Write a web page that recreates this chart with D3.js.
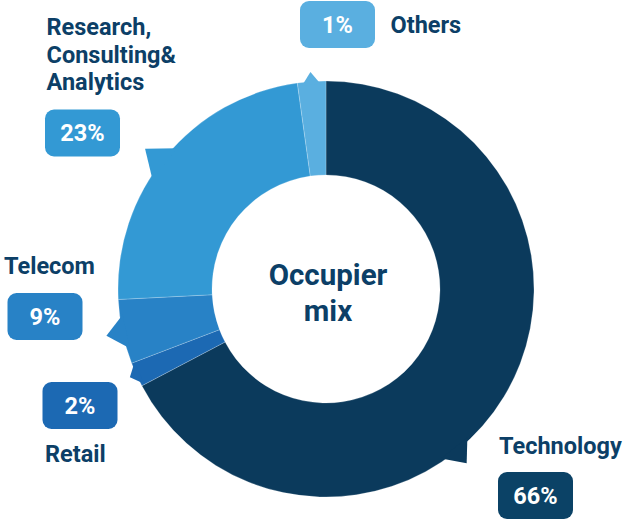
<!DOCTYPE html>
<html>
<head>
<meta charset="utf-8">
<script src="https://cdn.jsdelivr.net/npm/d3@7"></script>
<style>
  html, body { margin: 0; padding: 0; background: #fff; }
  svg { display: block; font-family: Roboto, "Noto Sans", sans-serif; }
</style>
</head>
<body>
<svg id="chart" width="625" height="520"></svg>
<script>
// ---- data ----
const categories = ["Technology", "Retail", "Telecom", "Research, Consulting& Analytics", "Others"];
const nameLines = [["Technology"], ["Retail"], ["Telecom"], ["Research,", "Consulting&", "Analytics"], ["Others"]];
// slice sizes as drawn in the picture (share of circle, %)
const shares = [67.3, 1.9, 5.0, 23.6, 2.2];
// printed percentage labels
const pctLabels = ["66%", "2%", "9%", "23%", "1%"];
const colors = ["#0b3a5c", "#1c69b3", "#2882c6", "#3399d4", "#5aafe0"];
const boxColors = ["#0b4266", "#1c69b3", "#2882c6", "#3399d4", "#5aafe0"];
const centerLines = ["Occupier", "mix"];

// ---- layout ----
const W = 625, H = 520;
const cx = 326, cy = 289, R = 208, r0 = 114;
// callout pointer per slice: angle (deg), half base width (deg), length (px)
const pointers = [
  {a: 141.1, hw: 4.7, len: 16},
  {a: 245.8, hw: 3.3, len: 7},
  {a: 258.0, hw: 4.8, len: 16.5},
  {a: 307.8, hw: 5.6, len: 21},
  {a: 355.9, hw: 2.6, len: 9.5}
];
// label positions: name x / baselines, box x,y
const labelLayout = [
  {nx: 499, ny: [454], bx: 498, by: 472},
  {nx: 45, ny: [462], bx: 42.5, by: 382},
  {nx: 4, ny: [274], bx: 7.5, by: 293},
  {nx: 46.5, ny: [35, 62.5, 90], bx: 45, by: 109.5},
  {nx: 390.5, ny: [33], bx: 300, by: 1}
];
const boxW = 75, boxH = 47;
const textColor = "#0c3f67";

const svg = d3.select("#chart");
const g = svg.append("g").attr("transform", `translate(${cx},${cy})`);

const pie = d3.pie().sort(null).value(d => d)(shares);
const arc = d3.arc().innerRadius(r0).outerRadius(R);
const rad = Math.PI / 180;
const pt = (deg, rr) => [rr * Math.sin(deg * rad), -rr * Math.cos(deg * rad)];

g.selectAll("path.slice")
  .data(pie)
  .join("path")
  .attr("class", "slice")
  .attr("d", arc)
  .attr("fill", (d, i) => colors[i])
  .attr("stroke", "rgba(255,255,255,0.35)")
  .attr("stroke-width", 0.6);

// callout pointer triangles, merged with their slices
pie.forEach((p, i) => {
  const pp = pointers[i];
  const tri = [pt(pp.a - pp.hw, R - 3), pt(pp.a, R + pp.len), pt(pp.a + pp.hw, R - 3)];
  g.append("path")
    .attr("d", d3.line()(tri) + "Z")
    .attr("fill", colors[i]);
});

// center text
g.selectAll("text.center")
  .data(centerLines)
  .join("text")
  .attr("class", "center")
  .attr("x", 2)
  .attr("y", (d, i) => -4 + i * 35.5)
  .attr("text-anchor", "middle")
  .attr("font-size", 29.5)
  .attr("font-weight", 700)
  .attr("fill", textColor)
  .text(d => d);

// labels
categories.forEach((c, i) => {
  const L = labelLayout[i];
  nameLines[i].forEach((line, k) => {
    svg.append("text")
      .attr("x", L.nx).attr("y", L.ny[k])
      .attr("font-size", 23.5)
      .attr("font-weight", 700)
      .attr("fill", textColor)
      .text(line);
  });
  svg.append("rect")
    .attr("x", L.bx).attr("y", L.by)
    .attr("width", boxW).attr("height", boxH)
    .attr("rx", 9)
    .attr("fill", boxColors[i]);
  svg.append("text")
    .attr("x", L.bx + boxW / 2).attr("y", L.by + 31.5)
    .attr("text-anchor", "middle")
    .attr("font-size", 23.5)
    .attr("font-weight", 700)
    .attr("fill", "#fff")
    .text(pctLabels[i]);
});
</script>
</body>
</html>
